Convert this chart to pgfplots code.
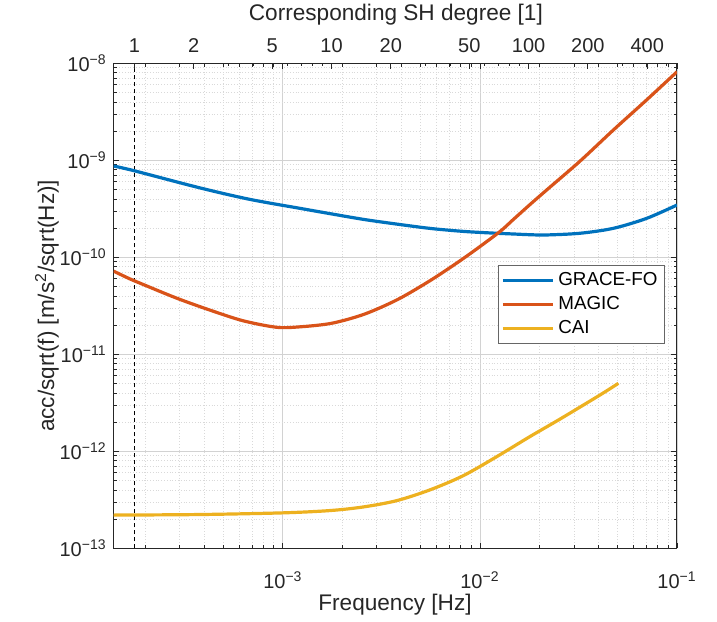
\documentclass[border=0pt]{standalone}
\usepackage{fontspec}
\setmainfont{Liberation Sans}
\setsansfont{Liberation Sans}
\usepackage{pgfplots}
\pgfplotsset{compat=1.18}
\definecolor{mblue}{rgb}{0,0.447,0.741}
\definecolor{morange}{rgb}{0.85,0.325,0.098}
\definecolor{myellow}{rgb}{0.929,0.694,0.125}
\definecolor{axgray}{rgb}{0.15,0.15,0.15}
\begin{document}
\begin{tikzpicture}
\path[use as bounding box] (-56.85pt,-36.35pt) rectangle (301.65pt,274.15pt);
\begin{axis}[
  at={(0pt,0pt)}, anchor=south west,
  scale only axis, width=281.65pt, height=242.5pt,
  xmode=log, ymode=log,
  xmin=1.385e-4, xmax=0.1, ymin=1e-13, ymax=1e-8,
  xtick={1e-3,1e-2,1e-1},
  xticklabels={10\textsuperscript{−3},10\textsuperscript{−2},10\textsuperscript{−1}},
  minor xtick={2e-4,3e-4,4e-4,5e-4,6e-4,7e-4,8e-4,9e-4,2e-3,3e-3,4e-3,5e-3,6e-3,7e-3,8e-3,9e-3,2e-2,3e-2,4e-2,5e-2,6e-2,7e-2,8e-2,9e-2},
  ytick={1e-13,1e-12,1e-11,1e-10,1e-9,1e-8},
  yticklabels={10\textsuperscript{−13},10\textsuperscript{−12},10\textsuperscript{−11},10\textsuperscript{−10},10\textsuperscript{−9},10\textsuperscript{−8}},
  minor ytick={2e-13,3e-13,4e-13,5e-13,6e-13,7e-13,8e-13,9e-13,2e-12,3e-12,4e-12,5e-12,6e-12,7e-12,8e-12,9e-12,2e-11,3e-11,4e-11,5e-11,6e-11,7e-11,8e-11,9e-11,2e-10,3e-10,4e-10,5e-10,6e-10,7e-10,8e-10,9e-10,2e-9,3e-9,4e-9,5e-9,6e-9,7e-9,8e-9,9e-9},
  grid=both,
  major grid style={gray!35, line width=0.4pt},
  minor grid style={gray!30, line width=0.4pt, densely dotted},
  tick align=inside,
  major tick length=2.8pt, minor tick length=1.6pt,
  tick style={axgray, line width=0.4pt},
  axis line style={axgray, line width=0.5pt},
  ticklabel style={font=\fontsize{10pt}{12pt}\selectfont, text=axgray},
  xticklabel style={yshift=-8pt},
  label style={font=\fontsize{11.3pt}{13.5pt}\selectfont, text=axgray},
  xlabel={Frequency [Hz]},
  xlabel style={at={(axis description cs:0.4994,-0.1169)}, anchor=center},
  ylabel={acc/sqrt(f) [m/s\textsuperscript{2}/sqrt(Hz)]},
  ylabel style={at={(axis description cs:-0.1184,0.5)}, anchor=center, rotate=0},
  legend style={at={(rel axis cs:0.9787,0.5841)}, anchor=north east, draw=black!60, line width=0.4pt,
    font=\fontsize{9.4pt}{11pt}\selectfont, text=black, inner sep=1.5pt, row sep=0pt},
  legend cell align=left,
  legend image code/.code={\draw[#1, line width=1.6pt] (0pt,0pt) -- (25pt,0pt);},
]
\addplot[black, line width=0.6pt, dash pattern=on 2pt off 1.5pt, forget plot] coordinates {(1.765e-4,1e-13) (1.765e-4,1e-8)};
\addplot[mblue, line width=1.6pt, smooth] coordinates {
(1.384e-4,8.73e-10) (1.754e-4,7.82e-10) (3.79e-4,5.2e-10) (6.79e-4,3.96e-10)
(1.219e-3,3.20e-10) (1.77e-3,2.80e-10) (2.6e-3,2.45e-10) (3.85e-3,2.19e-10)
(5.67e-3,1.98e-10) (8.4e-3,1.845e-10) (1.216e-2,1.77e-10) (1.476e-2,1.74e-10)
(1.795e-2,1.71e-10) (2.178e-2,1.70e-10) (3.22e-2,1.77e-10) (4.75e-2,1.99e-10) (7.01e-2,2.52e-10) (0.1,3.46e-10)};
\addlegendentry{GRACE-FO}
\addplot[morange, line width=1.6pt, smooth] coordinates {
(1.384e-4,7.2e-11) (1.671e-4,6.0e-11) (1.954e-4,5.25e-11) (2.884e-4,3.8e-11)
(4.256e-4,2.86e-11) (6.27e-4,2.22e-11) (9.29e-4,1.90e-11) (1.219e-3,1.92e-11)
(1.77e-3,2.09e-11) (2.6e-3,2.6e-11) (3.85e-3,3.7e-11) (5.7e-3,5.9e-11)
(8.4e-3,1.0e-10) (1.245e-2,1.8e-10) (1.476e-2,2.45e-10) (1.795e-2,3.5e-10)
(2.2e-2,5.02e-10) (3.22e-2,9.8e-10) (4.75e-2,2.05e-9) (7.01e-2,4.19e-9) (0.1,8.18e-9)};
\addlegendentry{MAGIC}
\addplot[myellow, line width=1.6pt, smooth] coordinates {
(1.384e-4,2.20e-13) (3.79e-4,2.23e-13) (1e-3,2.32e-13) (1.734e-3,2.45e-13)
(2.56e-3,2.67e-13) (3.78e-3,3.1e-13) (5.57e-3,4.0e-13) (8.22e-3,5.6e-13)
(1.216e-2,8.8e-13) (1.795e-2,1.42e-12) (2.55e-2,2.15e-12) (4.06e-2,3.80e-12) (5.04e-2,5.02e-12)};
\addlegendentry{CAI}
\end{axis}
\begin{axis}[
  at={(0pt,0pt)}, anchor=south west,
  scale only axis, width=281.65pt, height=242.5pt,
  xmode=log, xmin=0.7847, xmax=566.6, ymin=0, ymax=1,
  axis x line*=top, axis y line=none,
  xtick={1,2,5,10,20,50,100,200,400},
  xticklabels={1,2,5,10,20,50,100,200,400},
  minor xtick={3,4,6,7,8,9,30,40,60,70,80,90,300,500},
  tick align=inside,
  major tick length=2.8pt, minor tick length=1.6pt,
  tick style={axgray, line width=0.4pt},
  axis line style={axgray, line width=0.5pt},
  ticklabel style={font=\fontsize{10pt}{12pt}\selectfont, text=axgray},
  xticklabel style={yshift=2pt},
  xlabel={Corresponding SH degree [1]},
  label style={font=\fontsize{11.3pt}{13.5pt}\selectfont, text=axgray},
  xlabel style={at={(axis description cs:0.501,1.0996)}, anchor=center},
]
\addplot[draw=none] coordinates {(1,0.5)};
\end{axis}
\end{tikzpicture}
\end{document}
